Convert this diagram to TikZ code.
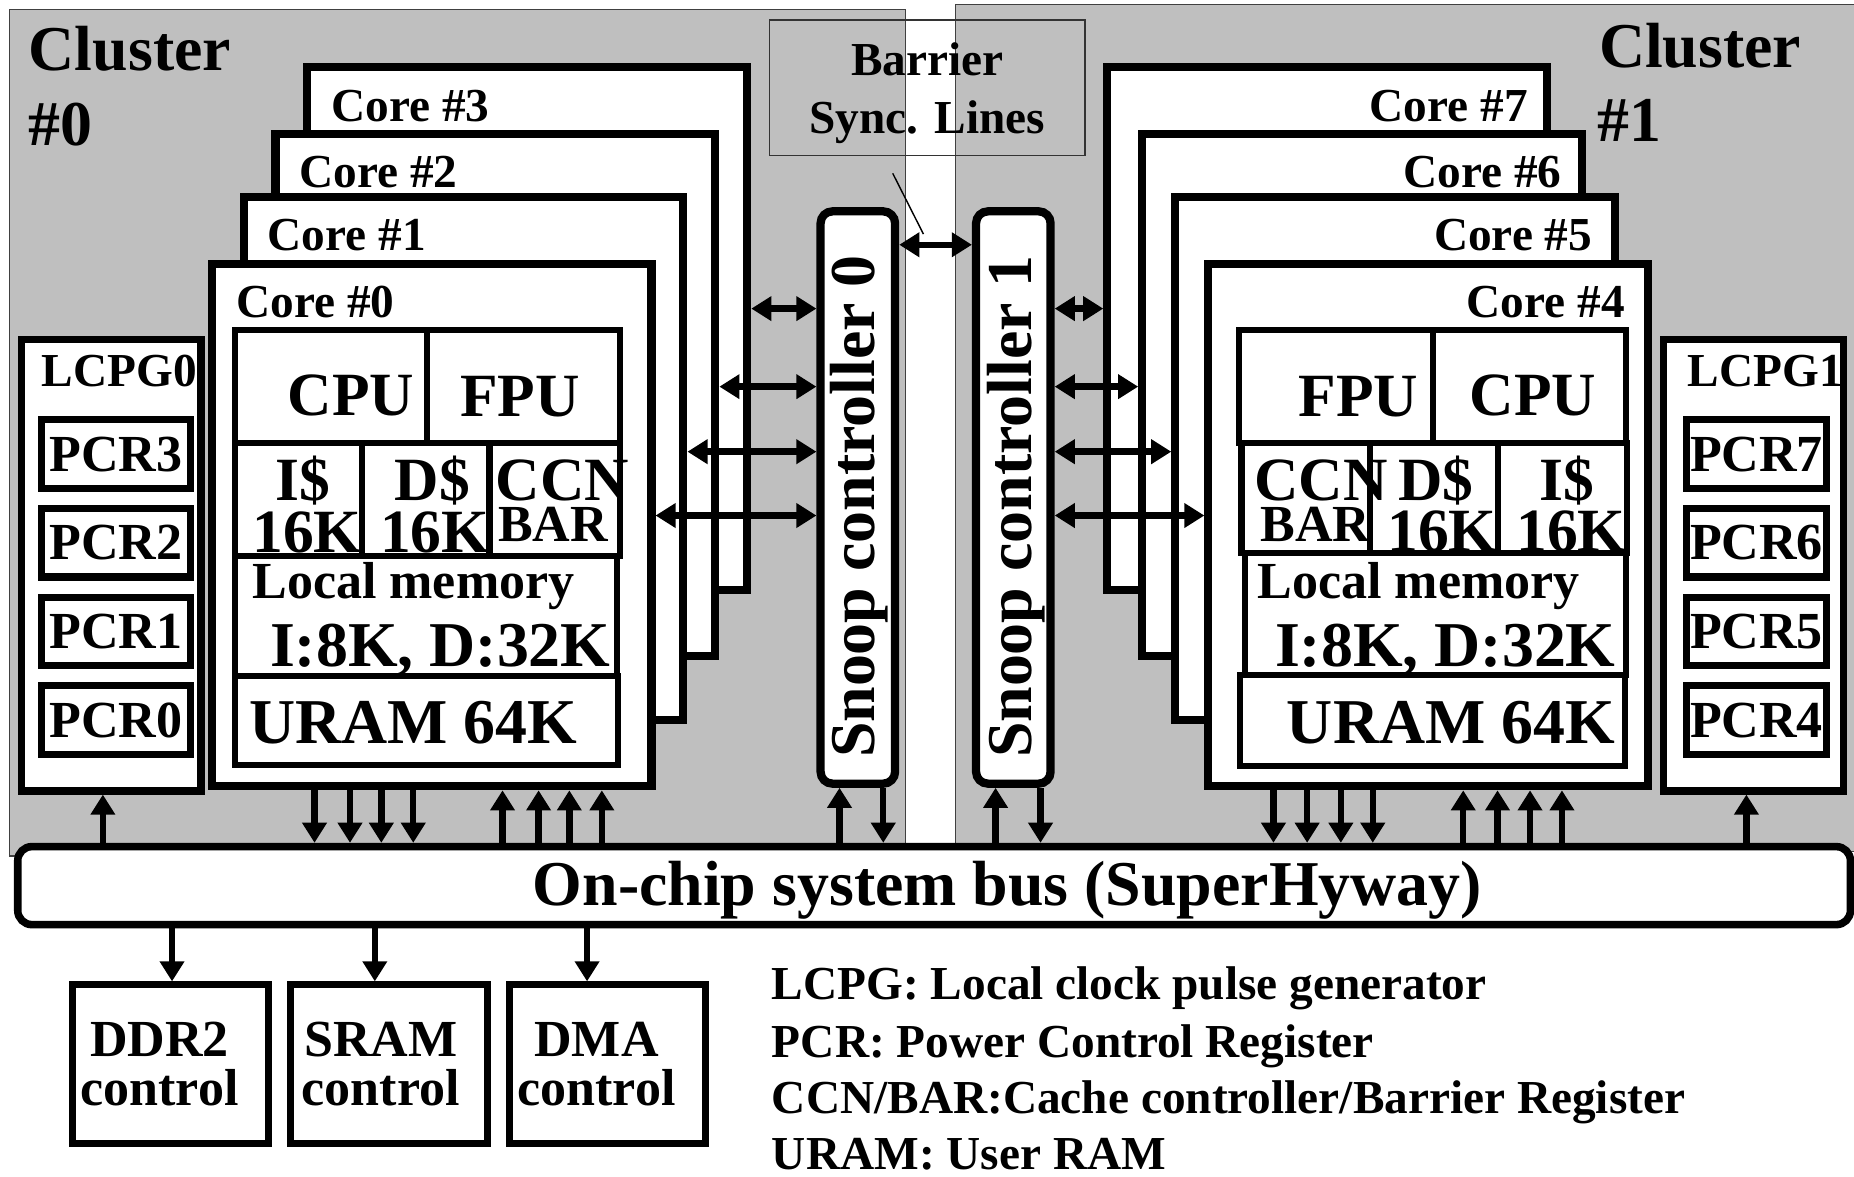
\documentclass[tikz,border=0pt]{standalone}
\usepackage{fontspec}
\setmainfont{Liberation Serif}
\usetikzlibrary{positioning, arrows.meta}

\begin{document}
\begin{tikzpicture}[x=0.5pt, y=-0.5pt, >={Triangle[length=8.5pt, width=10pt]},
    cluster/.style={draw=black!75, line width=0.5pt, fill=black!25, inner sep=0pt},
    corebox/.style={draw, line width=3.4pt, fill=white, minimum width=186pt, minimum height=221pt, inner sep=0pt},
    unitbox/.style={draw, line width=2.6pt, fill=white, inner sep=0pt},
    snoop/.style={draw, line width=3.5pt, fill=white, rounded corners=5pt, minimum width=31.5pt, minimum height=242pt, inner sep=0pt},
    lcpg/.style={draw, line width=3pt, fill=white, minimum width=76pt, minimum height=191pt, inner sep=0pt},
    pcr/.style={draw, line width=3pt, fill=white, minimum height=29pt, inner sep=0pt, font=\fontsize{22}{24}\selectfont\bfseries},
    ctrl/.style={draw, line width=3pt, fill=white, minimum width=83pt, minimum height=67pt, inner sep=0pt},
    ctrltext/.style={inner sep=0pt, align=center, font=\fontsize{22}{21}\selectfont\bfseries},
    txt/.style={inner sep=0pt, anchor=base west},
    coretext/.style={txt, font=\fontsize{20}{24}\selectfont\bfseries},
    memtext/.style={txt, font=\fontsize{22}{26}\selectfont\bfseries},
    unittext/.style={txt, font=\fontsize{26}{30}\selectfont\bfseries},
    bigtext/.style={txt, font=\fontsize{27}{31}\selectfont\bfseries},
    link/.style={line width=2.7pt}]

    \path[use as bounding box, fill=white] (0,0) rectangle (1568,995);

    % clusters
    \node[cluster, minimum width=379pt, minimum height=358pt] (cl0) at (387,366) {};
    \node[cluster, minimum width=382pt, minimum height=358pt] (cl1) at (1190,362) {};
    \node[bigtext] (cl0a) at (24,60) {Cluster};
    \node[bigtext] (cl0b) at (24,123) {\#0};
    \node[bigtext] (cl1a) at (1352,57) {Cluster};
    \node[bigtext] (cl1b) at (1351,120) {\#1};

    % barrier lines
    \node[draw=black!80, line width=0.6pt, minimum width=133.25pt, minimum height=57.35pt, inner sep=0pt,
          align=center, text depth=0pt, font=\fontsize{20}{24.7}\selectfont\bfseries] (bar) at (784.25,74.4) {Barrier\\Sync. Lines};
    \coordinate (barA) at (755,146.6);
    \coordinate (barB) at (781,198);
    \draw[line width=0.6pt] (barA) -- (barB);

    % cores of cluster 0
    \node[corebox] (core3) at (446,278) {};
    \node[corebox] (core2) at (419,334) {};
    \node[corebox] (core1) at (392,388) {};
    \node[corebox] (core0) at (365,444) {};
    \node[coretext] (core3t) at (280,103) {Core \#3};
    \node[coretext] (core2t) at (253,158.5) {Core \#2};
    \node[coretext] (core1t) at (226,212) {Core \#1};
    \node[coretext] (core0t) at (199.5,268.5) {Core \#0};

    % cores of cluster 1
    \node[corebox] (core7) at (1122.5,278) {};
    \node[corebox] (core6) at (1152,334) {};
    \node[corebox] (core5) at (1180,388) {};
    \node[corebox] (core4) at (1208,444) {};
    \node[coretext, anchor=base east] (core7t) at (1292.5,103) {Core \#7};
    \node[coretext, anchor=base east] (core6t) at (1321,158.5) {Core \#6};
    \node[coretext, anchor=base east] (core5t) at (1347,212) {Core \#5};
    \node[coretext, anchor=base east] (core4t) at (1374.5,268.5) {Core \#4};

    % units of core 0
    \node[unitbox, minimum width=81pt, minimum height=48pt] (cpu0) at (280,327) {};
    \node[unitbox, minimum width=81.5pt, minimum height=48pt] (fpu0) at (442.5,327) {};
    \node[unitbox, minimum width=53.5pt, minimum height=47.5pt] (ic0) at (252.5,422.5) {};
    \node[unitbox, minimum width=54pt, minimum height=47.5pt] (dc0) at (360,422.5) {};
    \node[unitbox, minimum width=55pt, minimum height=47.5pt] (ccn0) at (469,422.5) {};
    \node[unitbox, minimum width=161.5pt, minimum height=51pt] (lm0) at (360.5,521) {};
    \node[unitbox, minimum width=162pt, minimum height=37.5pt] (ur0) at (361,609.5) {};
    \node[unittext] (cpu0t) at (243,351) {CPU};
    \node[unittext] (fpu0t) at (389,352.5) {FPU};
    \node[unittext] (ic0t) at (233,423) {I\$};
    \node[unittext] (ic0s) at (213,467.5) {16K};
    \node[unittext] (dc0t) at (333.5,423) {D\$};
    \node[unittext] (dc0s) at (321,467.5) {16K};
    \node[unittext] (ccn0t) at (419,423) {CCN};
    \node[memtext] (ccn0s) at (421,458) {BAR};
    \node[memtext] (lm0t) at (213,506) {Local memory};
    \node[bigtext] (lm0s) at (228,564) {I:8K, D:32K};
    \node[bigtext] (ur0t) at (210.5,628.5) {URAM 64K};

    % units of core 4
    \node[unitbox, minimum width=82pt, minimum height=48pt] (fpu4) at (1130,327) {};
    \node[unitbox, minimum width=81.5pt, minimum height=48pt] (cpu4) at (1293.5,327) {};
    \node[unitbox, minimum width=54.5pt, minimum height=46.5pt] (ccn4) at (1104.5,421.5) {};
    \node[unitbox, minimum width=54pt, minimum height=46.5pt] (dc4) at (1213,421.5) {};
    \node[unitbox, minimum width=54.5pt, minimum height=46.5pt] (ic4) at (1321.5,421.5) {};
    \node[unitbox, minimum width=161pt, minimum height=51.5pt] (lm4) at (1214,519.5) {};
    \node[unitbox, minimum width=162.5pt, minimum height=38.5pt] (ur4) at (1211.5,609.5) {};
    \node[unittext] (fpu4t) at (1098,352.5) {FPU};
    \node[unittext] (cpu4t) at (1242.5,351) {CPU};
    \node[unittext] (ccn4t) at (1060.5,423) {CCN};
    \node[memtext] (ccn4s) at (1065.5,458) {BAR};
    \node[unittext] (dc4t) at (1182,423) {D\$};
    \node[unittext] (dc4s) at (1173,466.5) {16K};
    \node[unittext] (ic4t) at (1302,423) {I\$};
    \node[unittext] (ic4s) at (1282,466.5) {16K};
    \node[memtext] (lm4t) at (1063,506) {Local memory};
    \node[bigtext] (lm4s) at (1078,564) {I:8K, D:32K};
    \node[bigtext] (ur4t) at (1088,628.5) {URAM 64K};

    % clock pulse generators
    \node[lcpg] (lcpg0) at (94,478) {};
    \node[coretext] (lcpg0t) at (35,327) {LCPG0};
    \node[pcr, minimum width=62.75pt] (pcr3) at (98,384) {PCR3};
    \node[pcr, minimum width=62.75pt, below=5.5pt of pcr3] (pcr2) {PCR2};
    \node[pcr, minimum width=62.75pt, below=5.5pt of pcr2] (pcr1) {PCR1};
    \node[pcr, minimum width=62.75pt, below=5.5pt of pcr1] (pcr0) {PCR0};

    \node[lcpg] (lcpg1) at (1483,478) {};
    \node[coretext] (lcpg1t) at (1427,327) {LCPG1};
    \node[pcr, minimum width=59.5pt] (pcr7) at (1485.5,384) {PCR7};
    \node[pcr, minimum width=59.5pt, below=5.5pt of pcr7] (pcr6) {PCR6};
    \node[pcr, minimum width=59.5pt, below=5.5pt of pcr6] (pcr5) {PCR5};
    \node[pcr, minimum width=59.5pt, below=5.5pt of pcr5] (pcr4) {PCR4};

    % snoop controllers
    \node[snoop] (snp0) at (725.5,420.75) {};
    \node[snoop] (snp1) at (857,420.75) {};
    \node[bigtext, anchor=center, rotate=90] (snp0t) at (727,428.5) {Snoop controller 0};
    \node[bigtext, anchor=center, rotate=90] (snp1t) at (859,428.5) {Snoop controller 1};

    % system bus and controllers
    \node[draw, line width=3.2pt, fill=white, rounded corners=6pt, minimum width=775pt, minimum height=33pt, inner sep=0pt] (bus) at (790,749) {};
    \node[bigtext, anchor=base] (bust) at (852,766) {On-chip system bus (SuperHyway)};
    \node[ctrl] (ddr) at (144,900) {};
    \node[ctrl, right=6.5pt of ddr] (sram) {};
    \node[ctrl, right=6.5pt of sram] (dma) {};
    \node[ctrltext, xshift=-4.5pt] (ddrt) at (ddr) {DDR2\\control};
    \node[ctrltext, xshift=-3.5pt] (sramt) at (sram) {SRAM\\control};
    \node[ctrltext, xshift=-4.75pt] (dmat) at (dma) {DMA\\control};

    % legend
    \node[coretext] (leg1) at (652.5,845.5) {LCPG: Local clock pulse generator};
    \node[coretext] (leg2) at (652.5,894) {PCR: Power Control Register};
    \node[coretext] (leg3) at (652.5,941.5) {CCN/BAR:Cache controller/Barrier Register};
    \node[coretext] (leg4) at (652.5,989.5) {URAM: User RAM};

    \path[<->, link]
    (core3.east |- 0,261) edge (snp0.west |- 0,261)
    (core2.east |- 0,327) edge (snp0.west |- 0,327)
    (core1.east |- 0,382) edge (snp0.west |- 0,382)
    (core0.east |- 0,436) edge (snp0.west |- 0,436)

    (snp1.east |- 0,261) edge (core7.west |- 0,261)
    (snp1.east |- 0,327) edge (core6.west |- 0,327)
    (snp1.east |- 0,382) edge (core5.west |- 0,382)
    (snp1.east |- 0,436) edge (core4.west |- 0,436)

    (snp0.east |- 0,207) edge (snp1.west |- 0,207);

    \path[->, link]
    (bus.north -| 87,0) edge (lcpg0.south -| 87,0)
    (core0.south -| 266,0) edge (bus.north -| 266,0)
    (core0.south -| 296,0) edge (bus.north -| 296,0)
    (core0.south -| 322.5,0) edge (bus.north -| 322.5,0)
    (core0.south -| 349.5,0) edge (bus.north -| 349.5,0)
    (bus.north -| 425,0) edge (core0.south -| 425,0)
    (bus.north -| 455.5,0) edge (core0.south -| 455.5,0)
    (bus.north -| 481.5,0) edge (core0.south -| 481.5,0)
    (bus.north -| 509,0) edge (core0.south -| 509,0)
    (bus.north -| 710,0) edge (snp0.south -| 710,0)
    (snp0.south -| 747,0) edge (bus.north -| 747,0)

    (bus.north -| 842,0) edge (snp1.south -| 842,0)
    (snp1.south -| 880,0) edge (bus.north -| 880,0)
    (core4.south -| 1077,0) edge (bus.north -| 1077,0)
    (core4.south -| 1105.5,0) edge (bus.north -| 1105.5,0)
    (core4.south -| 1134,0) edge (bus.north -| 1134,0)
    (core4.south -| 1161,0) edge (bus.north -| 1161,0)
    (bus.north -| 1237.5,0) edge (core4.south -| 1237.5,0)
    (bus.north -| 1266.5,0) edge (core4.south -| 1266.5,0)
    (bus.north -| 1294,0) edge (core4.south -| 1294,0)
    (bus.north -| 1321,0) edge (core4.south -| 1321,0)
    (bus.north -| 1477,0) edge (lcpg1.south -| 1477,0)

    (bus.south -| 145.5,0) edge (ddr.north -| 145.5,0)
    (bus.south -| 317,0) edge (sram.north -| 317,0)
    (bus.south -| 496.5,0) edge (dma.north -| 496.5,0);
\end{tikzpicture}
\end{document}
